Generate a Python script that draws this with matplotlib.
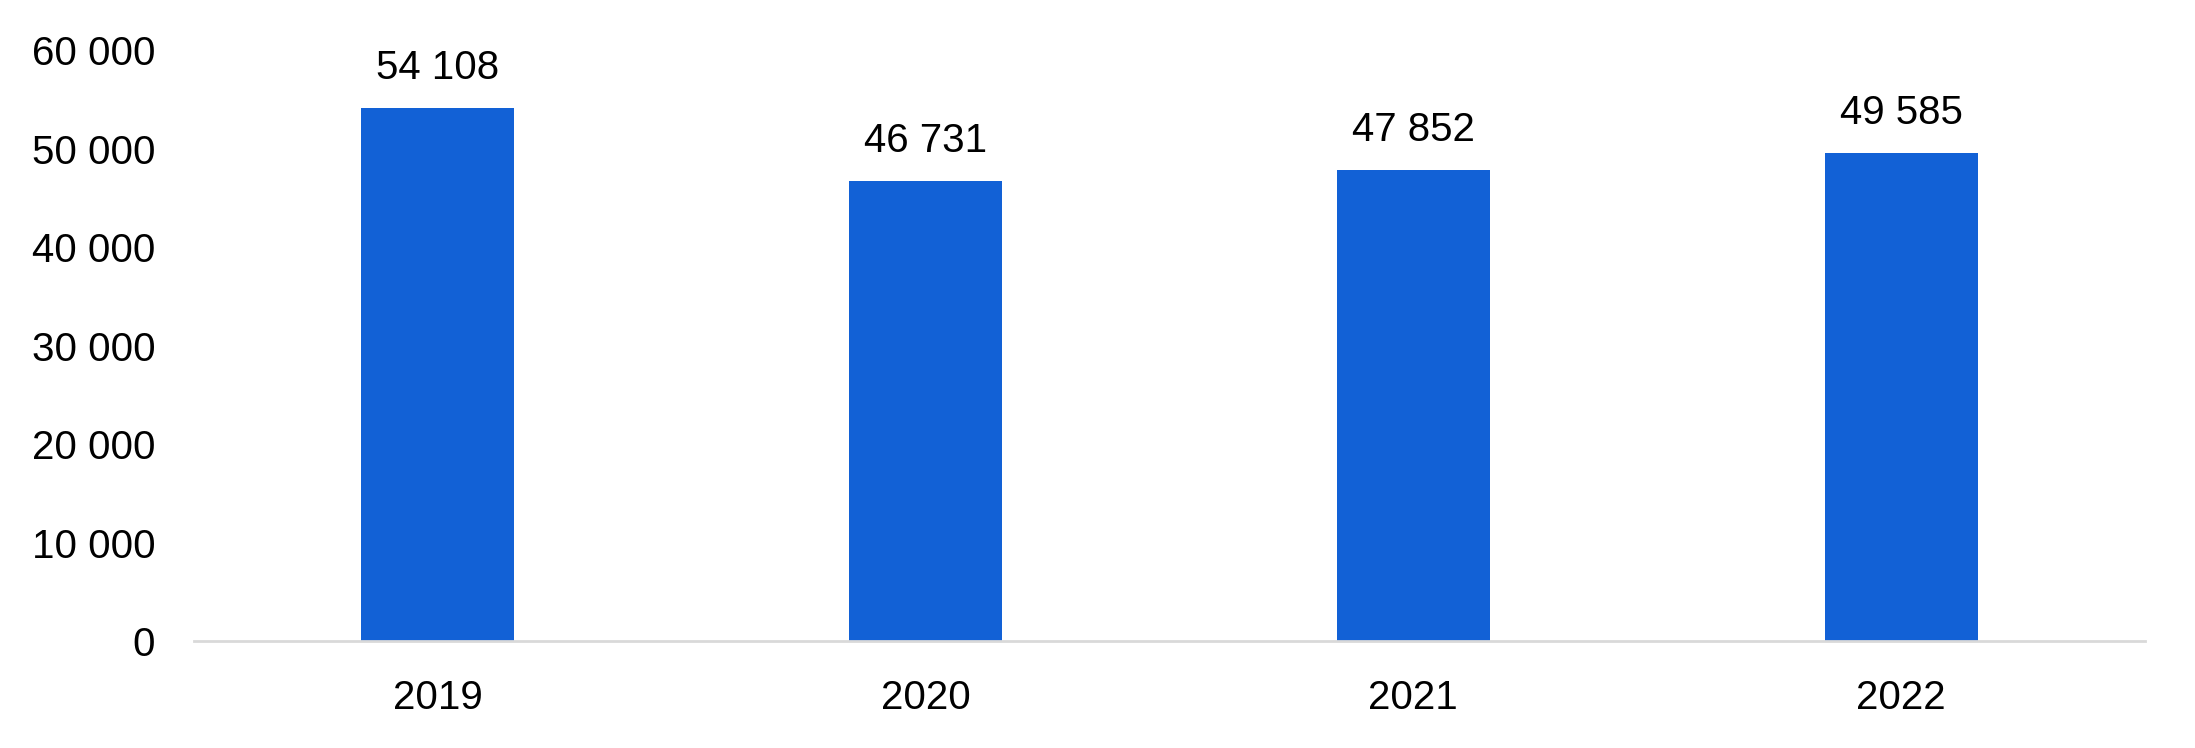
import matplotlib.pyplot as plt
import numpy as np

plt.rcParams['font.family'] = ['Liberation Sans', 'DejaVu Sans']

years = ["2019", "2020", "2021", "2022"]
values = [54108, 46731, 47852, 49585]
yticks = [0, 10000, 20000, 30000, 40000, 50000, 60000]

def fmt(v):
    return "{:,}".format(v).replace(",", " ")

fig = plt.figure(figsize=(21.95, 7.48), dpi=100)
ax = fig.add_axes([0.0884, 0.1430, 0.9772 - 0.0884, 0.9326 - 0.1430])

x = np.arange(len(years))
ax.bar(x, values, width=0.314, color="#1261D6", zorder=2)

for xi, v in zip(x, values):
    ax.annotate(fmt(v), (xi, v), xytext=(0, 21), textcoords="offset points",
                ha="center", va="baseline", fontsize=29, color="black")

ax.set_xlim(-0.5, len(years) - 0.5)
ax.set_ylim(0, 60000)
ax.set_xticks(x)
ax.set_xticklabels(years)
ax.set_yticks(yticks)
ax.set_yticklabels([fmt(t) for t in yticks])
ax.tick_params(axis="both", length=0, labelsize=29, colors="black")
ax.tick_params(axis="y", pad=28)
ax.tick_params(axis="x", pad=27)

for s in ["top", "right", "left"]:
    ax.spines[s].set_visible(False)
ax.spines["bottom"].set_color("#D9D9D9")
ax.spines["bottom"].set_linewidth(2)
ax.spines["bottom"].set_zorder(3)

fig.savefig("out.png", dpi=100)
